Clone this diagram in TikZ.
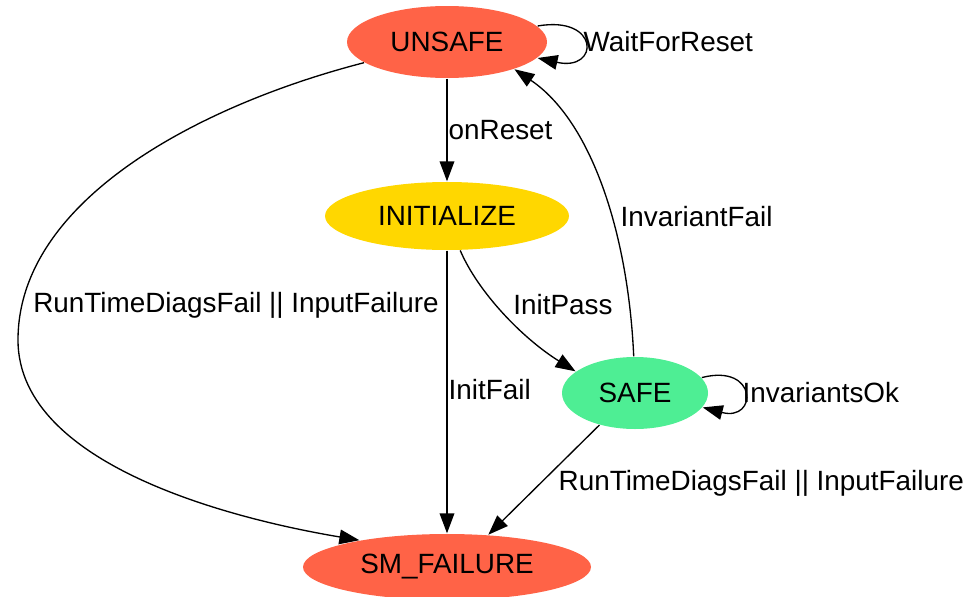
\documentclass[tikz,border=0pt]{standalone}
\usepackage{fontspec}
\setmainfont{Liberation Sans}
\usetikzlibrary{arrows.meta,shapes.geometric}
\definecolor{c_tomato}{RGB}{255,99,71}
\definecolor{c_gold}{RGB}{255,215,0}
\definecolor{c_green}{RGB}{78,238,148}
\begin{document}
\begin{tikzpicture}[x=0.75pt,y=-0.75pt,
  state_node/.style={ellipse,inner sep=0pt,font=\fontsize{20.9}{24}\selectfont},
  lbl/.style={inner sep=0pt,font=\fontsize{20.9}{24}\selectfont},
  every path/.style={line width=1pt},
  arr/.style={-{Triangle[length=15pt,width=11pt]}}]

\useasboundingbox (0,0) rectangle (967,596) ;

\node[state_node,fill=c_tomato,minimum width=150pt,minimum height=54pt] (n_unsafe) at (447,42) {UNSAFE} ;
\node[state_node,fill=c_gold,minimum width=183pt,minimum height=51pt] (n_init) at (447,216) {INITIALIZE} ;
\node[state_node,fill=c_green,minimum width=109.5pt,minimum height=54pt] (n_safe) at (635,393) {SAFE} ;
\node[state_node,fill=c_tomato,minimum width=216pt,minimum height=49.5pt] (n_fail) at (447,567) {SM\_FAILURE} ;

\draw[arr] (n_unsafe.10) .. controls (600,15) and (600,72) .. (n_unsafe.-10) ;
\node[lbl,anchor=west] (l_wait) at (583,42) {WaitForReset} ;

\draw[arr] (n_unsafe) -- (n_init) ;
\node[lbl,anchor=west] (l_reset) at (448,130) {onReset} ;

\draw[arr] (n_unsafe.194) .. controls (200,105) and (18,200) .. (18,340)
  .. controls (18,470) and (250,522) .. (n_fail.163) ;
\node[lbl] (l_diag_a) at (236,305) {RunTimeDiagsFail || InputFailure} ;

\draw[arr] (n_init.-69) .. controls (478,292) and (522,338) .. (n_safe.160) ;
\node[lbl] (l_pass) at (563,305) {InitPass} ;

\draw[arr] (n_init) -- (n_fail) ;
\node[lbl,anchor=west] (l_initfail) at (448,390) {InitFail} ;

\draw[arr] (n_safe.92) .. controls (628,230) and (590,120) .. (n_unsafe.-22) ;
\node[lbl,anchor=west] (l_invfail) at (620,217) {InvariantFail} ;

\draw[arr] (n_safe.13) .. controls (758,363) and (758,422) .. (n_safe.-12) ;
\node[lbl,anchor=west] (l_invok) at (742,393) {InvariantsOk} ;

\draw[arr] (n_safe.222) -- (n_fail.38) ;
\node[lbl,anchor=west] (l_diag_b) at (558,483) {RunTimeDiagsFail || InputFailure} ;

\end{tikzpicture}
\end{document}
